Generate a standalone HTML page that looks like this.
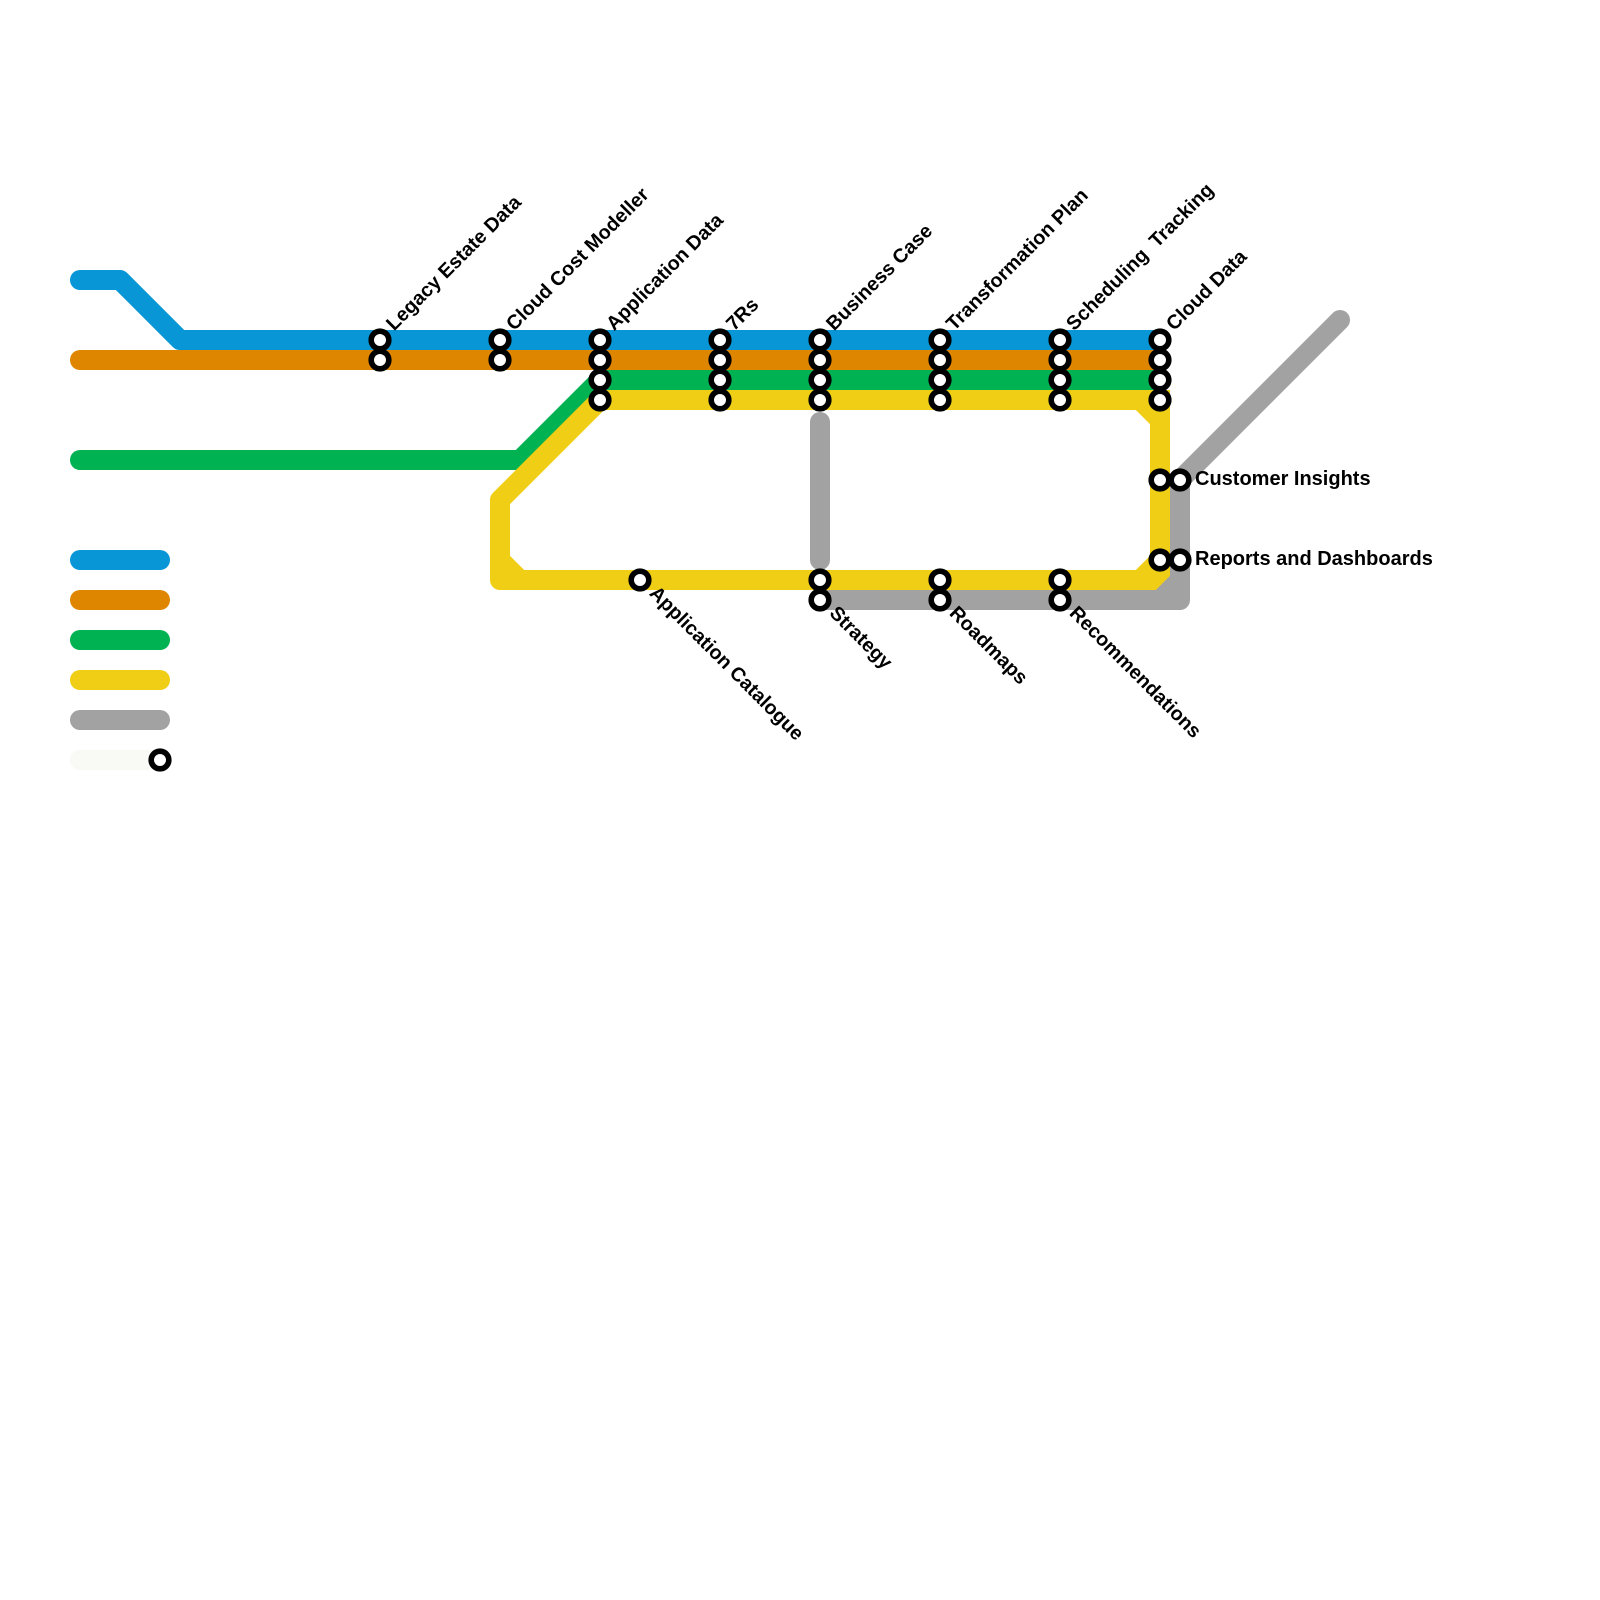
<!DOCTYPE html>
<html>
<head>
<meta charset="utf-8">
<style>
html,body{margin:0;padding:0;background:#fff;}
svg{display:block;}
text{font-family:"Liberation Sans",Arial,sans-serif;font-weight:bold;font-size:20px;fill:#000;white-space:pre;}
text.r{font-size:19.75px;}
.l{fill:none;stroke-width:20;stroke-linecap:round;stroke-linejoin:round;}
.s{fill:#fff;stroke:#000;stroke-width:5.6;}
</style>
</head>
<body>
<svg xmlns="http://www.w3.org/2000/svg" width="1600" height="1600" viewBox="0 0 1600 1600">
<rect width="1600" height="1600" fill="#fff"/>
<path class="l" stroke="#0896d7" d="M80 280H120L180 340H1160"/>
<path class="l" stroke="#df8600" d="M80 360H1160"/>
<path class="l" stroke="#00b251" d="M80 460H520L600 380H1160"/>
<path class="l" stroke="#f0ce15" d="M1160 560V580H500V500L600 400H1160V560M1140 400L1160 420M1160 560L1140 580M500 560L520 580"/>
<rect x="1150" y="390" width="20" height="20" fill="#f0ce15"/>
<path class="l" stroke="#a2a2a2" d="M820 422V560M820 600H1180V480L1340 320M1160 600L1180 580"/>

<path class="l" stroke="#0896d7" d="M80 560H160"/>
<path class="l" stroke="#df8600" d="M80 600H160"/>
<path class="l" stroke="#00b251" d="M80 640H160"/>
<path class="l" stroke="#f0ce15" d="M80 680H160"/>
<path class="l" stroke="#a2a2a2" d="M80 720H160"/>
<path class="l" stroke="#f9faf5" d="M80 760H160"/>
<circle class="s" cx="160" cy="760" r="8.8"/>

<g>
<circle class="s" cx="380" cy="340" r="8.8"/><circle class="s" cx="380" cy="360" r="8.8"/>
<circle class="s" cx="500" cy="340" r="8.8"/><circle class="s" cx="500" cy="360" r="8.8"/>
<circle class="s" cx="600" cy="340" r="8.8"/><circle class="s" cx="600" cy="360" r="8.8"/><circle class="s" cx="600" cy="380" r="8.8"/><circle class="s" cx="600" cy="400" r="8.8"/>
<circle class="s" cx="720" cy="340" r="8.8"/><circle class="s" cx="720" cy="360" r="8.8"/><circle class="s" cx="720" cy="380" r="8.8"/><circle class="s" cx="720" cy="400" r="8.8"/>
<circle class="s" cx="820" cy="340" r="8.8"/><circle class="s" cx="820" cy="360" r="8.8"/><circle class="s" cx="820" cy="380" r="8.8"/><circle class="s" cx="820" cy="400" r="8.8"/>
<circle class="s" cx="940" cy="340" r="8.8"/><circle class="s" cx="940" cy="360" r="8.8"/><circle class="s" cx="940" cy="380" r="8.8"/><circle class="s" cx="940" cy="400" r="8.8"/>
<circle class="s" cx="1060" cy="340" r="8.8"/><circle class="s" cx="1060" cy="360" r="8.8"/><circle class="s" cx="1060" cy="380" r="8.8"/><circle class="s" cx="1060" cy="400" r="8.8"/>
<circle class="s" cx="1160" cy="340" r="8.8"/><circle class="s" cx="1160" cy="360" r="8.8"/><circle class="s" cx="1160" cy="380" r="8.8"/><circle class="s" cx="1160" cy="400" r="8.8"/>
<circle class="s" cx="640" cy="580" r="8.8"/>
<circle class="s" cx="820" cy="580" r="8.8"/><circle class="s" cx="820" cy="600" r="8.8"/>
<circle class="s" cx="940" cy="580" r="8.8"/><circle class="s" cx="940" cy="600" r="8.8"/>
<circle class="s" cx="1060" cy="580" r="8.8"/><circle class="s" cx="1060" cy="600" r="8.8"/>
<circle class="s" cx="1160" cy="480" r="8.8"/><circle class="s" cx="1180" cy="480" r="8.8"/>
<circle class="s" cx="1160" cy="560" r="8.8"/><circle class="s" cx="1180" cy="560" r="8.8"/>
</g>

<text class="r" transform="translate(380 340) rotate(-45) translate(16 4)">Legacy Estate Data</text>
<text class="r" transform="translate(500 340) rotate(-45) translate(16 4)">Cloud Cost Modeller</text>
<text class="r" transform="translate(600 340) rotate(-45) translate(16 4)">Application Data</text>
<text class="r" transform="translate(720 340) rotate(-45) translate(16 4)">7Rs</text>
<text class="r" transform="translate(820 340) rotate(-45) translate(16 4)">Business Case</text>
<text class="r" transform="translate(940 340) rotate(-45) translate(16 4)">Transformation Plan</text>
<text class="r" transform="translate(1060 340) rotate(-45) translate(16 4)">Scheduling  Tracking</text>
<text class="r" transform="translate(1160 340) rotate(-45) translate(16 4)">Cloud Data</text>
<text class="r" transform="translate(640 580) rotate(45) translate(16 4)">Application Catalogue</text>
<text class="r" transform="translate(820 600) rotate(45) translate(16 4)">Strategy</text>
<text class="r" transform="translate(940 600) rotate(45) translate(16 4)">Roadmaps</text>
<text class="r" transform="translate(1060 600) rotate(45) translate(16 4)">Recommendations</text>
<text x="1195" y="485">Customer Insights</text>
<text x="1195" y="565">Reports and Dashboards</text>
</svg>
</body>
</html>
